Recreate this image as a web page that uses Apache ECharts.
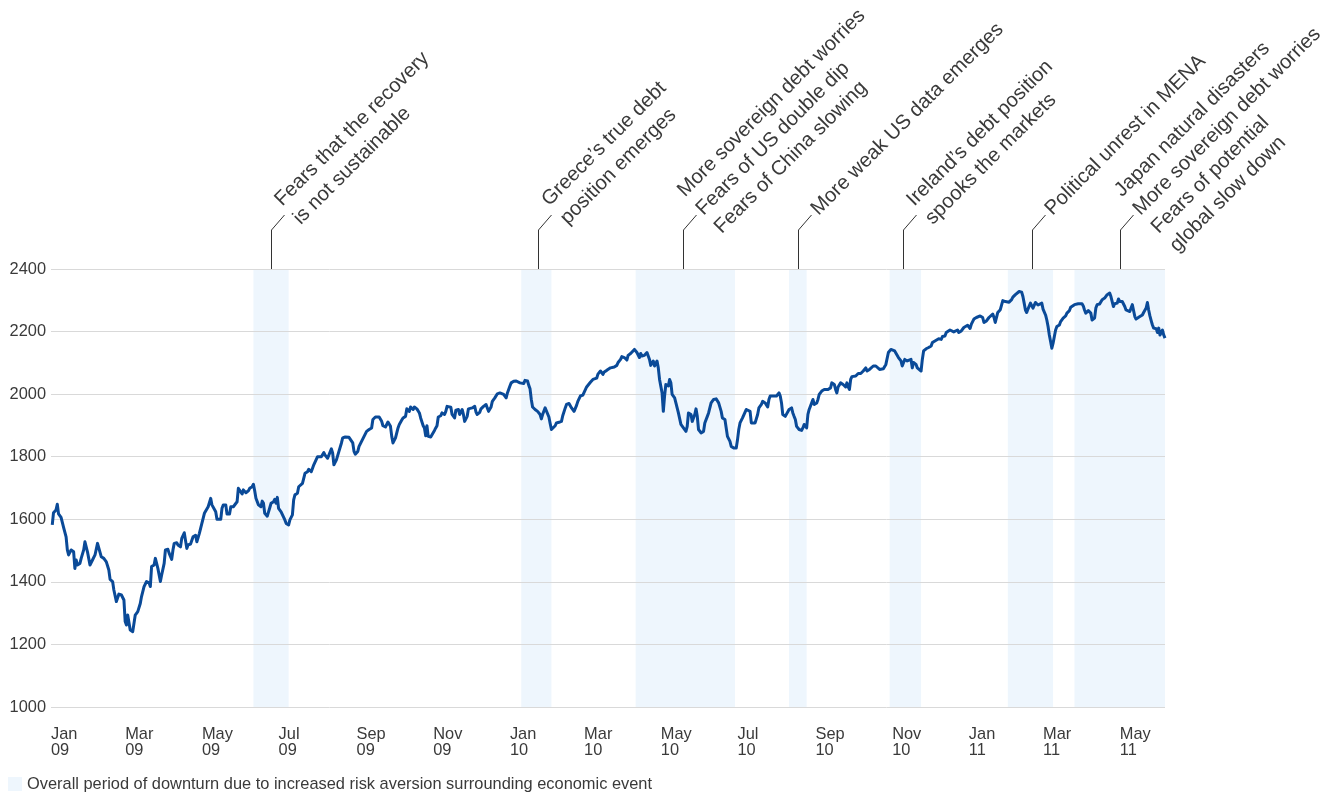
<!DOCTYPE html>
<html>
<head>
<meta charset="utf-8">
<script src="https://cdn.jsdelivr.net/npm/echarts@6/dist/echarts.min.js"></script>
<style>
  html, body { margin: 0; padding: 0; background: #ffffff; }
  #chart { width: 1338px; height: 795px; }
</style>
</head>
<body>
<div id="chart"></div>
<script>
// Index level over time: [calendar days after 1 Jan 2009, level]
const indexSeries = [
  [1,1582],[2,1621],[4,1630],[5,1648],[6,1617],[8,1606],[10,1574],[12,1544],[13,1502],[14,1486],
  [16,1502],[18,1496],[19,1443],[20,1470],[21,1454],[23,1459],[24,1475],[26,1502],[27,1528],[29,1496],
  [30,1475],[31,1454],[33,1470],[35,1486],[37,1523],[38,1528],[40,1480],[42,1475],[44,1464],[46,1438],
  [47,1408],[49,1401],[50,1374],[52,1337],[54,1361],[56,1358],[58,1342],[59,1273],[60,1262],[61,1294],
  [63,1246],[65,1241],[66,1235],[67,1294],[69,1305],[71,1331],[72,1353],[74,1385],[76,1401],[78,1397],
  [79,1385],[80,1449],[82,1454],[83,1475],[84,1478],[85,1443],[87,1401],[88,1422],[90,1459],[91,1502],
  [93,1504],[94,1491],[96,1472],[97,1502],[98,1523],[100,1525],[101,1518],[103,1512],[104,1539],[106,1557],
  [108,1507],[109,1518],[111,1521],[113,1544],[115,1549],[116,1528],[118,1555],[119,1571],[120,1576],[122,1619],
  [123,1624],[125,1640],[126,1646],[127,1667],[128,1646],[129,1642],[131,1624],[132,1600],[133,1603],[135,1600],
  [136,1635],[137,1646],[139,1646],[140,1617],[142,1617],[143,1640],[145,1640],[146,1646],[148,1656],[149,1699],
  [150,1694],[152,1681],[153,1694],[155,1685],[157,1691],[158,1699],[160,1704],[161,1712],[162,1691],[163,1667],
  [165,1646],[167,1640],[168,1658],[169,1651],[170,1619],[172,1610],[174,1637],[175,1651],[177,1656],[178,1664],
  [179,1651],[180,1670],[181,1635],[183,1624],[184,1619],[186,1598],[187,1587],[189,1582],[190,1598],[192,1614],
  [193,1662],[194,1678],[196,1683],[197,1704],[200,1715],[201,1715],[202,1747],[204,1752],[205,1760],[207,1752],
  [209,1774],[210,1779],[212,1800],[213,1805],[215,1800],[217,1813],[218,1805],[220,1795],
  [223,1825],[224,1812],[225,1774],[227,1790],[228,1796],[229,1817],[231,1844],[232,1860],[234,1863],[235,1857],
  [237,1862],[238,1863],[240,1844],[241,1817],[242,1808],[244,1817],[245,1833],[247,1849],[249,1865],[251,1881],
  [252,1887],[253,1887],[255,1892],[256,1919],[258,1927],[259,1921],[261,1927],[262,1924],[263,1913],[264,1899],
  [266,1895],[268,1911],[269,1911],[270,1897],[271,1865],[272,1844],[274,1860],[276,1892],[277,1903],[279,1917],
  [280,1924],[282,1929],[283,1953],[285,1945],[286,1959],[288,1951],[289,1959],[291,1953],[293,1940],[294,1924],
  [296,1899],[297,1892],[298,1867],[299,1899],[300,1865],[302,1863],[303,1867],[305,1884],[306,1892],[307,1899],
  [308,1927],[310,1931],[311,1940],[313,1935],[314,1945],[315,1961],[316,1961],[318,1958],[319,1935],[321,1924],
  [322,1949],[324,1951],[325,1935],[327,1951],[328,1935],[329,1913],[331,1929],[332,1953],[333,1959],[335,1956],
  [337,1961],[338,1943],[339,1935],[341,1942],[342,1953],[344,1961],[346,1967],[347,1956],[348,1945],[350,1959],
  [351,1977],[353,1988],[355,2001],[357,2004],[358,2006],[360,1999],[362,1988],[363,2004],[365,2026],[366,2036],
  [368,2041],[370,2042],[371,2045],[373,2036],[374,2042],[376,2034],[377,2044],[379,2042],[380,2028],[381,2017],
  [382,1983],[383,1959],[385,1951],[387,1945],[389,1935],[390,1921],[391,1935],[393,1956],[394,1953],[396,1927],
  [397,1906],[398,1887],[399,1884],[401,1899],[402,1908],[404,1910],[406,1913],[407,1931],[409,1956],[410,1967],
  [412,1970],[414,1956],[415,1956],[416,1945],[418,1964],[419,1977],[421,1994],[423,1997],[424,2001],[426,2023],
  [427,2028],[429,2038],[431,2047],[432,2044],[434,2051],[435,2064],[437,2074],[439,2063],[440,2071],[442,2076],
  [443,2074],[445,2084],[446,2079],[448,2087],[450,2092],[451,2101],[453,2111],[454,2120],[456,2117],[458,2109],
  [459,2124],[461,2130],[462,2127],[464,2143],[465,2149],[466,2133],[468,2117],[469,2130],[470,2122],[472,2124],
  [474,2133],[475,2138],[476,2111],[477,2092],[479,2106],[480,2090],[482,2106],[483,2084],[484,2047],[486,2004],
  [487,1945],[488,1994],[489,2031],[491,2026],[492,2047],[493,2036],[494,1999],[496,1988],[497,1972],[499,1940],
  [501,1903],[502,1908],[503,1892],[505,1881],[506,1897],[507,1940],[509,1935],[510,1913],[512,1935],[513,1953],
  [514,1929],[515,1887],[517,1876],
  [519,1881],[520,1908],[522,1929],[523,1940],[525,1972],[527,1983],[529,1985],[530,1988],[531,1972],[533,1945],
  [534,1924],[536,1919],[537,1913],[538,1865],[540,1849],[541,1833],[543,1828],[545,1828],[546,1854],[547,1887],
  [548,1908],[550,1924],[551,1924],[553,1951],[554,1956],[556,1945],[557,1908],[558,1913],[560,1908],[562,1935],
  [563,1956],[565,1967],[566,1977],[568,1972],[570,1959],[571,1983],[572,1994],[574,1994],[575,1996],[577,1994],
  [578,1999],[579,2004],[580,1994],[581,1972],[582,1935],[584,1929],[585,1929],[587,1951],[589,1956],[590,1940],
  [591,1929],[592,1919],[593,1897],[595,1887],[597,1884],[598,1892],[599,1903],[600,1897],[601,1892],[602,1935],
  [603,1951],[605,1972],[606,1983],[607,1967],[609,1972],[610,1983],[611,1999],[613,2010],[615,2015],[616,2010],
  [618,2015],[619,2010],[620,2020],[621,2036],[623,2031],[624,2015],[625,2004],[626,2023],[627,2026],[628,2036],
  [630,2031],[631,2028],[632,2023],[633,2036],[634,2023],[635,2015],[636,2047],[637,2056],[638,2058],[640,2058],
  [642,2066],[643,2071],[644,2066],[645,2066],[646,2074],[648,2084],[649,2074],[650,2071],[651,2079],[652,2084],
  [654,2090],[656,2090],[657,2084],[659,2079],[660,2081],[662,2081],[663,2084],[664,2095],[665,2101],[666,2133],
  [668,2143],[669,2143],[671,2138],[672,2133],[674,2117],[675,2122],[676,2106],[677,2090],[678,2092],[679,2111],
  [680,2117],[681,2106],[682,2101],[684,2111],[685,2084],[686,2101],[687,2106],[688,2095],[689,2084],[690,2079],
  [692,2074],[693,2111],[694,2138],[695,2143],[696,2145],[698,2149],[700,2154],[701,2165],[703,2170],[704,2175],
  [706,2177],[708,2175],[709,2184],[711,2186],[712,2197],[713,2202],[715,2205],[716,2202],[718,2199],[719,2202],
  [721,2205],[722,2197],[723,2197],[724,2202],[726,2213],[727,2218],[729,2220],[730,2218],[731,2210],[732,2224],
  [734,2240],[736,2245],[737,2248],[739,2250],[740,2256],[741,2245],[742,2229],[744,2234],[746,2245],[747,2248],
  [749,2256],[750,2245],[751,2229],[753,2261],[755,2270],
  [757,2299],[759,2296],[760,2302],[762,2294],[764,2302],[765,2310],[767,2318],[768,2323],[770,2328],[771,2330],
  [772,2326],[773,2312],[774,2291],[775,2269],[776,2261],[777,2272],[779,2291],[780,2296],[781,2275],[782,2269],
  [783,2293],[784,2299],[785,2285],[786,2280],[788,2291],[789,2272],[790,2269],[791,2253],[792,2237],[793,2216],
  [794,2189],[795,2168],[796,2147],[797,2163],[798,2184],[799,2205],[800,2216],[802,2221],[803,2232],[805,2243],
  [806,2248],[807,2250],[808,2259],[810,2267],[811,2278],[812,2272],[814,2286],[815,2291],[817,2289],[818,2291],
  [820,2289],[821,2282],[822,2269],[823,2259],[824,2264],[825,2267],[826,2261],[827,2259],[828,2237],[830,2243],
  [831,2275],[832,2286],[834,2288],[835,2291],[836,2302],[838,2307],[840,2318],[841,2323],[842,2323],[843,2312],
  [844,2296],[845,2280],[846,2289],[848,2291],[849,2304],[850,2296],[851,2302],[852,2296],[853,2291],[854,2280],
  [855,2269],[856,2264],[858,2264],[859,2275],[860,2286],[861,2280],[862,2248],[863,2240],[864,2243],[866,2248],
  [868,2253],[869,2261],[871,2275],[872,2293],[873,2269],[874,2250],[875,2235],[876,2221],[877,2211],[878,2205],
  [879,2209],[880,2197],[881,2211],[882,2189],[883,2186],[884,2205],[885,2189],[886,2179]
];

// Periods of downturn (start, end)
const downturnPeriods = [
  ['2009-06-11', '2009-07-09'],
  ['2010-01-10', '2010-02-03'],
  ['2010-04-11', '2010-06-29'],
  ['2010-08-11', '2010-08-25'],
  ['2010-10-30', '2010-11-24'],
  ['2011-02-01', '2011-03-09'],
  ['2011-03-26', '2011-06-06']
];

// Economic events and their dates
const eventDates = ['2009-06-25', '2010-01-23', '2010-05-19', '2010-08-18', '2010-11-10', '2011-02-20', '2011-05-01'];
const eventLabels = [
  'Fears that the recovery\nis not sustainable',
  'Greece\u2019s true debt\nposition emerges',
  'More sovereign debt worries\nFears of US double dip\nFears of China slowing',
  'More weak US data emerges',
  'Ireland\u2019s debt position\nspooks the markets',
  'Political unrest in MENA',
  'Japan natural disasters\nMore sovereign debt worries\nFears of potential\nglobal slow down'
];

const legendLabel = 'Overall period of downturn due to increased risk aversion surrounding economic event';
const monthNames = ['Jan','Feb','Mar','Apr','May','Jun','Jul','Aug','Sep','Oct','Nov','Dec'];
const axisStart = '2009-01-01';
const axisEnd = '2011-06-06';
const yMin = 1000, yMax = 2400, yStep = 200;

const FONT = '"Liberation Sans", Arial, sans-serif';
const LINE_COLOR = '#0a4a98';
const BAND_COLOR = '#eef6fd';
const TEXT_COLOR = '#3a3a3a';
const NOTE_FONT_SIZE = 20.3;
const NOTE_LINE_HEIGHT = 26;

function toTime(s) {
  const [y, m, d] = s.split('-').map(Number);
  return new Date(y, m - 1, d).getTime();
}
const t0 = toTime(axisStart);
function dayToTime(n) {
  const base = new Date(t0);
  return new Date(base.getFullYear(), base.getMonth(), base.getDate() + n).getTime();
}

const lineData = indexSeries.map(p => [dayToTime(p[0]), p[1]]);
const bandData = downturnPeriods.map(p => [toTime(p[0]), toTime(p[1])]);
const eventData = eventDates.map((d, i) => [toTime(d), yMax, i]);

const chart = echarts.init(document.getElementById('chart'), null, { renderer: 'canvas' });

chart.setOption({
  animation: false,
  backgroundColor: '#ffffff',
  textStyle: { fontFamily: FONT },
  grid: { left: 51, right: 173, top: 269, bottom: 88, containLabel: false, outerBoundsMode: 'none' },
  legend: {
    data: [{ name: legendLabel, icon: 'rect' }],
    left: 8,
    top: 776,
    padding: 0,
    itemWidth: 14,
    itemHeight: 14,
    itemGap: 5,
    selectedMode: false,
    textStyle: { fontFamily: FONT, fontSize: 16.4, color: TEXT_COLOR, padding: [0, 0, 0, 0] }
  },
  xAxis: {
    type: 'time',
    min: toTime(axisStart),
    max: toTime(axisEnd),
    splitNumber: 14,
    axisLine: { show: false },
    axisTick: { show: false },
    splitLine: { show: false },
    axisLabel: {
      showMinLabel: true,
      showMaxLabel: false,
      hideOverlap: false,
      align: 'left',
      margin: 19,
      fontFamily: FONT,
      fontSize: 16.4,
      lineHeight: 16,
      color: TEXT_COLOR,
      formatter: function (value) {
        const d = new Date(value);
        return monthNames[d.getMonth()] + '\n' + String(d.getFullYear()).slice(2);
      }
    }
  },
  yAxis: {
    type: 'value',
    min: yMin,
    max: yMax,
    interval: yStep,
    axisLine: { show: false },
    axisTick: { show: false },
    splitLine: { lineStyle: { color: '#d9d9d9', width: 1 } },
    axisLabel: {
      margin: 5,
      fontFamily: FONT,
      fontSize: 16.4,
      color: TEXT_COLOR,
      formatter: function (v) { return String(v); }
    }
  },
  series: [
    {
      name: legendLabel,
      type: 'custom',
      z: -1,
      clip: true,
      itemStyle: { color: BAND_COLOR },
      encode: { x: [0, 1] },
      data: bandData,
      renderItem: function (params, api) {
        const a = api.coord([api.value(0), yMax]);
        const b = api.coord([api.value(1), yMin]);
        return {
          type: 'rect',
          shape: { x: a[0], y: a[1], width: b[0] - a[0], height: b[1] - a[1] },
          style: { fill: BAND_COLOR }
        };
      }
    },
    {
      name: 'index',
      type: 'line',
      data: lineData,
      showSymbol: false,
      symbol: 'none',
      lineStyle: { color: LINE_COLOR, width: 3, join: 'round' },
      itemStyle: { color: LINE_COLOR },
      z: 3
    },
    {
      name: 'events',
      type: 'custom',
      clip: false,
      z: 4,
      encode: { x: 0, y: 1 },
      data: eventData,
      renderItem: function (params, api) {
        const p = api.coord([api.value(0), yMax]);
        const x = Math.round(p[0]) + 0.5;
        const y = p[1];
        const ex = x + 13, ey = y - 54;
        const text = eventLabels[api.value(2)];
        const lines = text.split('\n').length;
        // leader points at the second line of a four-line note
        const shift = lines === 4 ? NOTE_LINE_HEIGHT * 0.5 * Math.SQRT1_2 : 0;
        return {
          type: 'group',
          children: [
            {
              type: 'polyline',
              shape: { points: [[x, y], [x, y - 39], [ex, ey]] },
              style: { stroke: '#333333', lineWidth: 1, fill: null }
            },
            {
              type: 'text',
              x: ex + 3 + shift,
              y: ey - 3 + shift,
              rotation: Math.PI / 4,
              style: {
                text: text,
                fill: TEXT_COLOR,
                fontFamily: FONT,
                fontSize: NOTE_FONT_SIZE,
                lineHeight: NOTE_LINE_HEIGHT,
                align: 'left',
                verticalAlign: 'middle'
              }
            }
          ]
        };
      }
    }
  ]
});
</script>
</body>
</html>
